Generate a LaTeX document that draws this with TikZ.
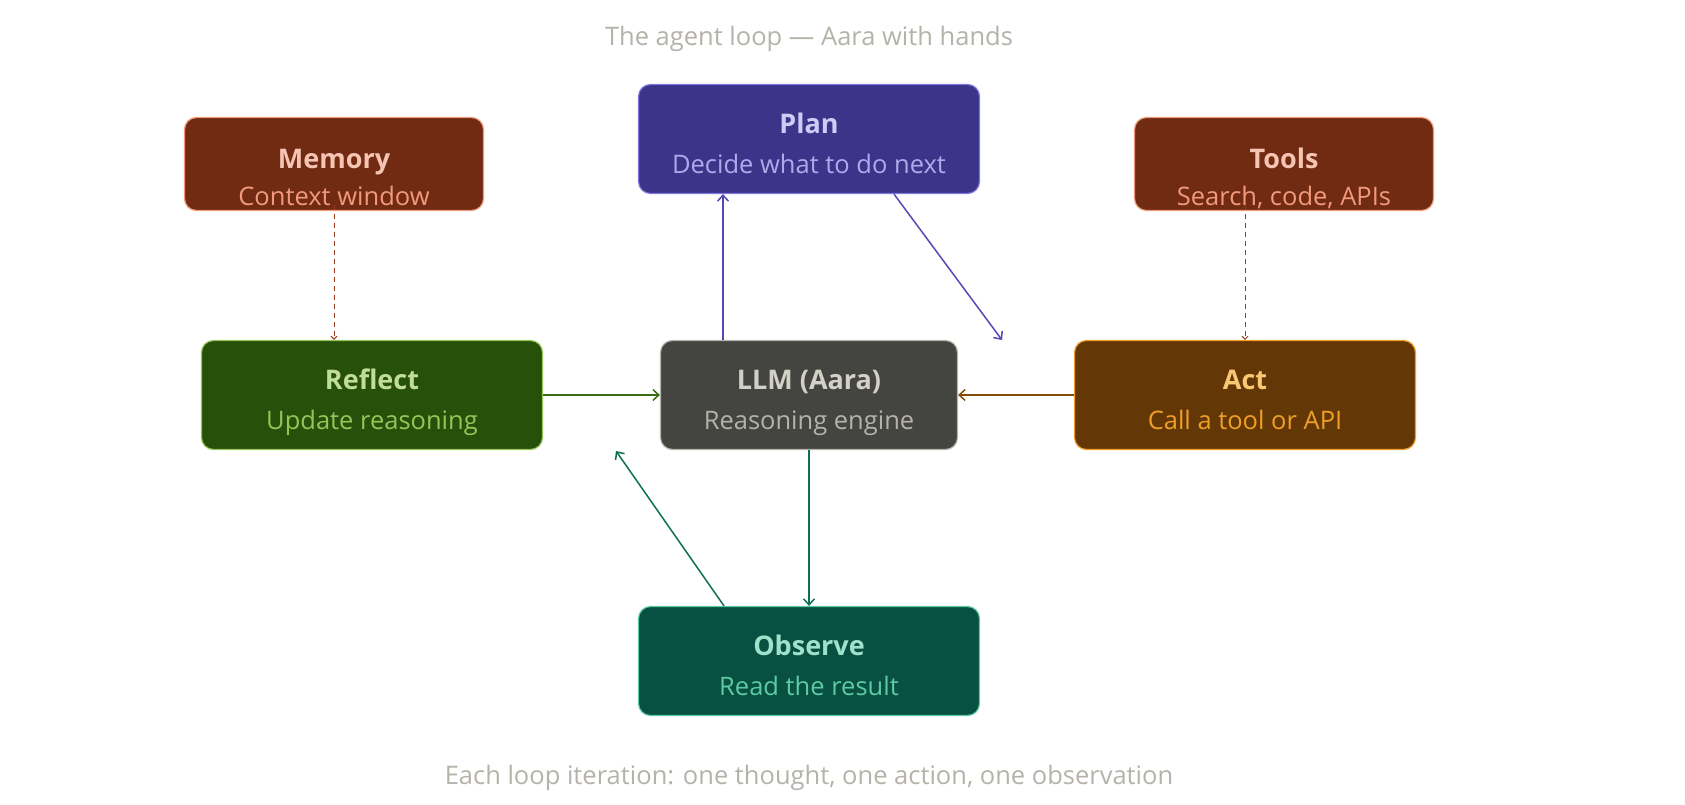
\documentclass[tikz,border=0pt]{standalone}
\usepackage{fontspec}
\setmainfont{Open Sans}
\usetikzlibrary{arrows.meta,positioning}

\definecolor{plan_fill}{HTML}{3C3489}
\definecolor{plan_edge}{HTML}{7F77DD}
\definecolor{plan_title}{HTML}{CECBF6}
\definecolor{plan_sub}{HTML}{AFA9EC}
\definecolor{plan_line}{HTML}{534AB7}
\definecolor{coral_fill}{HTML}{712B13}
\definecolor{coral_edge}{HTML}{F0997B}
\definecolor{coral_title}{HTML}{F5C4B3}
\definecolor{coral_sub}{HTML}{F0997B}
\definecolor{coral_line}{HTML}{993C1D}
\definecolor{green_fill}{HTML}{27500A}
\definecolor{green_edge}{HTML}{97C459}
\definecolor{green_title}{HTML}{C0DD97}
\definecolor{green_sub}{HTML}{97C459}
\definecolor{green_line}{HTML}{3B6D11}
\definecolor{grey_fill}{HTML}{444441}
\definecolor{grey_edge}{HTML}{B4B2A9}
\definecolor{grey_title}{HTML}{D3D1C7}
\definecolor{grey_sub}{HTML}{B4B2A9}
\definecolor{amber_fill}{HTML}{633806}
\definecolor{amber_edge}{HTML}{EF9F27}
\definecolor{amber_title}{HTML}{FAC775}
\definecolor{amber_sub}{HTML}{EF9F27}
\definecolor{amber_line}{HTML}{854F0B}
\definecolor{teal_fill}{HTML}{085041}
\definecolor{teal_edge}{HTML}{5DCAA5}
\definecolor{teal_title}{HTML}{9FE1CB}
\definecolor{teal_sub}{HTML}{5DCAA5}
\definecolor{teal_line}{HTML}{0F6E56}
\definecolor{caption_grey}{HTML}{B4B2A9}

\newcommand{\boxtitle}{\fontsize{27}{40}\selectfont\bfseries}
\newcommand{\sidetitle}{\fontsize{27}{37}\selectfont\bfseries}

\tikzset{
        boxnode/.style={rectangle, rounded corners=12pt, align=center, line width=1.2pt, inner sep=0pt,
                font=\fontsize{25.5}{40}\selectfont},
        % Loop steps
        box_step/.style={boxnode, minimum width=341pt, minimum height=109pt, text height=69pt, text depth=0pt},
        % Side resources
        box_side/.style={boxnode, minimum width=299pt, minimum height=93pt, text height=83pt, text depth=0pt,
                font=\fontsize{25.5}{37}\selectfont},
        % Colours
        box_plan/.style={fill=plan_fill, draw=plan_edge, text=plan_title},
        box_coral/.style={fill=coral_fill, draw=coral_edge, text=coral_title},
        box_green/.style={fill=green_fill, draw=green_edge, text=green_title},
        box_grey/.style={fill=grey_fill, draw=grey_edge, text=grey_title},
        box_amber/.style={fill=amber_fill, draw=amber_edge, text=amber_title},
        box_teal/.style={fill=teal_fill, draw=teal_edge, text=teal_title},
        % Captions
        caption/.style={text=caption_grey, font=\fontsize{25.5}{30}\selectfont},
        % Dashed links
        link_dashed/.style={coral_line, line width=1pt, dash pattern=on 5pt off 4pt,
                -{Straight Barb[length=3pt,width=6pt]}}
}

\begin{document}
\begin{tikzpicture}[
            x=1pt, y=-1pt,
            line width=1.5pt,
            >={Straight Barb[length=6pt,width=11pt]}
        ]
            \useasboundingbox (0,0) rectangle (1685,805);
            \node[caption] (top_caption) at (809,39) {The agent loop — Aara with hands};
            \node[caption] (bottom_caption) at (809,778) {Each loop iteration: one thought, one action, one observation};

            \node[box_step, box_plan] (plan) at (809,139)
                {{\boxtitle Plan}\\{\color{plan_sub}Decide what to do next}};
            \node[box_side, box_coral] (memory) at (334,164)
                {{\sidetitle Memory}\\{\color{coral_sub}Context window}};
            \node[box_side, box_coral] (tools) at (1284,164)
                {{\sidetitle Tools}\\{\color{coral_sub}Search, code, APIs}};
            \node[box_step, box_green] (reflect) at (372,395)
                {{\boxtitle Reflect}\\{\color{green_sub}Update reasoning}};
            \node[box_step, box_grey, minimum width=297pt] (llm) at (809,395)
                {{\boxtitle LLM (Aara)}\\{\color{grey_sub}Reasoning engine}};
            \node[box_step, box_amber] (act) at (1245,395)
                {{\boxtitle Act}\\{\color{amber_sub}Call a tool or API}};
            \node[box_step, box_teal] (observe) at (809,661)
                {{\boxtitle Observe}\\{\color{teal_sub}Read the result}};

            \coordinate (plan_out) at (1002,340);
            \coordinate (observe_out) at (616,451);

            \draw[->, plan_line] ([xshift=-86pt]llm.north) -- ([xshift=-86pt]llm.north |- plan.south);
            \draw[->, plan_line] ([xshift=85pt]plan.south) -- (plan_out);
            \draw[->, green_line] (reflect.east) -- (llm.west);
            \draw[->, amber_line] (act.west) -- (llm.east);
            \draw[->, teal_line] (llm.south) -- (observe.north);
            \draw[->, teal_line] ([xshift=-85pt]observe.north) -- (observe_out);
            \draw[link_dashed] ([yshift=6pt]memory.south) -- (memory.south |- reflect.north);
            \draw[link_dashed] ([yshift=6pt]act.north |- tools.south) -- (act.north);
        \end{tikzpicture}
\end{document}
